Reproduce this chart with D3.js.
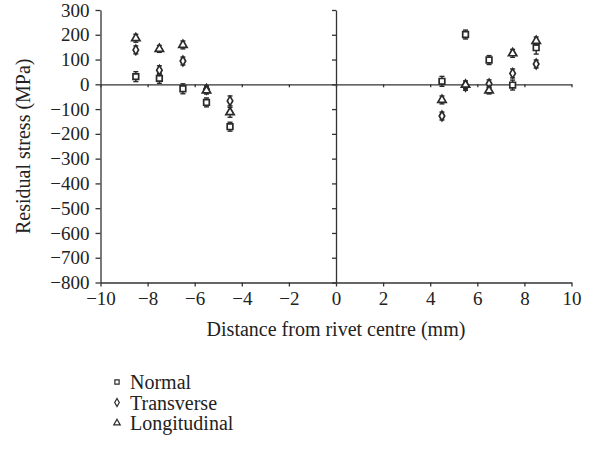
<!DOCTYPE html>
<html>
<head>
    <meta charset="utf-8">
    <title>Residual stress</title>
    <style type="text/css">
        body{ margin: 0; background: #fff; }
        svg{ display: block; }
        .axis path, .axis line{ stroke: #333; stroke-width: 1.3px; }
        .axis text{ fill: #222; font-family: "Liberation Serif", serif; font-size: 19px; }
        .label{ fill: #222; font-family: "Liberation Serif", serif; font-size: 20px; }
        .err{ stroke: #2a2a2a; stroke-width: 1.4px; }
        .mark{ fill: #fff; stroke: #2a2a2a; stroke-width: 1.7px; }
    </style>
    <script type="text/javascript" src="https://cdn.jsdelivr.net/npm/d3@7/dist/d3.min.js"></script>
</head>
<body>
<div id="chart"></div>
<script type="text/javascript">
    // distances (mm) and stresses (MPa)
    var positions = [-8.5, -7.5, -6.5, -5.5, -4.5, 4.5, 5.5, 6.5, 7.5, 8.5];
    var normal       = [31, 24, -18, -73, -171, 12, 201, 98, -3, 148];
    var normalErr    = [20, 20, 20, 18, 18, 20, 18, 18, 20, 26];
    var transverse   = [139, 57, 94, -20, -67, -128, -8, 2, 44, 82];
    var transErr     = [16, 18, 16, 14, 20, 16, 16, 16, 18, 16];
    var longitudinal = [186, 143, 159, -25, -113, -63, -2, -25, 125, 175];
    var longErr      = [16, 14, 16, 14, 20, 16, 16, 14, 16, 16];
    var seriesNames  = ['Normal', 'Transverse', 'Longitudinal'];
    var xTicks = [-10, -8, -6, -4, -2, 0, 2, 4, 6, 8, 10];
    var yTicks = [300, 200, 100, 0, -100, -200, -300, -400, -500, -600, -700, -800];

    var width = 592, height = 449;
    var plotLeft = 100.5, plotRight = 571.5, plotTop = 10, plotBottom = 282.5;

    var svg = d3.select('#chart').append('svg')
        .attr('width', width)
        .attr('height', height);

    var xScale = d3.scaleLinear().domain([-10, 10]).range([plotLeft, plotRight]);
    var yScale = d3.scaleLinear().domain([-800, 300]).range([plotBottom, plotTop]);

    var fmt = function(d){ return d < 0 ? '\u2212' + Math.abs(d) : String(d); };

    // left axis
    svg.append('g').attr('class', 'axis')
        .attr('transform', 'translate(' + plotLeft + ',0)')
        .call(d3.axisLeft(yScale).tickValues(yTicks).tickSize(5).tickSizeOuter(0).tickPadding(6).tickFormat(fmt));

    // bottom axis
    svg.append('g').attr('class', 'axis')
        .attr('transform', 'translate(0,' + plotBottom + ')')
        .call(d3.axisBottom(xScale).tickValues(xTicks).tickSize(4).tickSizeOuter(0).tickPadding(5).tickFormat(fmt));

    // zero lines through origin
    svg.append('g').attr('class', 'axis')
        .attr('transform', 'translate(0,' + yScale(0) + ')')
        .call(d3.axisBottom(xScale).tickValues(xTicks).tickSize(3).tickSizeOuter(0).tickFormat(''));
    svg.append('g').attr('class', 'axis')
        .attr('transform', 'translate(' + xScale(0) + ',0)')
        .call(d3.axisLeft(yScale).tickValues(yTicks).tickSize(4).tickSizeOuter(0).tickFormat(''));

    // axis titles
    svg.append('text').attr('class', 'label')
        .attr('x', xScale(0)).attr('y', 336)
        .attr('text-anchor', 'middle')
        .text('Distance from rivet centre (mm)');
    svg.append('text').attr('class', 'label')
        .attr('transform', 'translate(30,' + ((plotTop + plotBottom) / 2) + ') rotate(-90)')
        .attr('text-anchor', 'middle')
        .text('Residual stress (MPa)');

    var shapes = [d3.symbolSquare, d3.symbolDiamond, d3.symbolTriangle];
    var sizes = [32, 26, 30];
    var series = [[normal, normalErr], [transverse, transErr], [longitudinal, longErr]];

    series.forEach(function(s, k){
        var vals = s[0], errs = s[1];
        var g = svg.append('g');
        positions.forEach(function(p, i){
            var cx = xScale(p);
            g.append('line').attr('class', 'err')
                .attr('x1', cx).attr('x2', cx)
                .attr('y1', yScale(vals[i] - errs[i])).attr('y2', yScale(vals[i] + errs[i]));
            [vals[i] - errs[i], vals[i] + errs[i]].forEach(function(v){
                g.append('line').attr('class', 'err')
                    .attr('x1', cx - 2.5).attr('x2', cx + 2.5)
                    .attr('y1', yScale(v)).attr('y2', yScale(v));
            });
        });
        g.selectAll('path.mark')
            .data(vals)
            .enter()
            .append('path')
            .attr('class', 'mark')
            .attr('d', d3.symbol().type(shapes[k]).size(sizes[k]))
            .attr('transform', function(d, i){
                return 'translate(' + xScale(positions[i]) + ',' + yScale(d) + ')';
            });
    });

    // legend
    var legend = svg.append('g').attr('transform', 'translate(117,382)');
    seriesNames.forEach(function(name, k){
        var row = legend.append('g').attr('transform', 'translate(0,' + (k * 20.5) + ')');
        row.append('path').attr('class', 'mark')
            .style('stroke-width', '1.2px')
            .attr('d', d3.symbol().type(shapes[k]).size(18));
        row.append('text').attr('class', 'label')
            .attr('x', 13).attr('y', 7)
            .text(name);
    });
</script>
</body>
</html>
